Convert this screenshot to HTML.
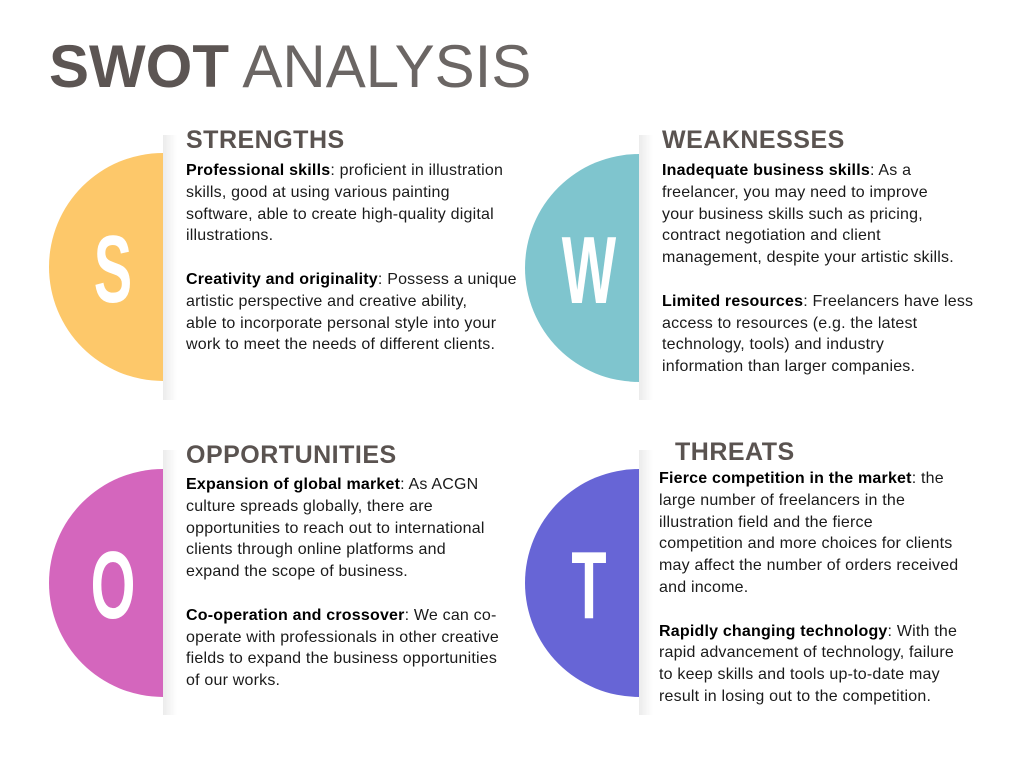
<!DOCTYPE html>
<html><head><meta charset="utf-8">
<style>
body{margin:0;background:#fff;}
#page{position:relative;width:1018px;height:757px;overflow:hidden;background:#fff;font-family:"Liberation Sans",sans-serif;}
.title{position:absolute;left:49px;top:32px;font-size:60px;color:#5c5553;white-space:nowrap;}
.title b{font-weight:bold;}
.title span{font-weight:normal;color:#6b6664;letter-spacing:0px;}
.half{position:absolute;width:114px;height:228px;border-radius:114px 0 0 114px;}
.shadow{position:absolute;width:14px;height:265px;background:linear-gradient(to right,rgba(0,0,0,0.08),rgba(0,0,0,0));}
.letter{position:absolute;width:114px;text-align:center;color:#fff;font-weight:bold;font-size:96px;line-height:96px;transform:scaleX(0.6);transform-origin:center;}
.head{position:absolute;font-size:25px;font-weight:bold;color:#5a5350;letter-spacing:0.5px;white-space:nowrap;}
.txt{position:absolute;font-size:16px;line-height:21.8px;color:#1a1a1a;white-space:nowrap;letter-spacing:0.2px;}
.txt b{color:#000;}
.txt p{margin:0 0 21.8px 0;}
</style></head><body>
<div id="page">
<div class="title"><b>SWOT</b> <span>ANALYSIS</span></div>

<div class="shadow" style="left:163px;top:135px"></div>
<div class="half" style="left:49px;top:153px;background:#fdc86a"></div>
<div class="letter" style="left:56px;top:222px">S</div>
<div class="head" style="left:186px;top:126px">STRENGTHS</div>
<div class="txt" style="left:186px;top:160px">
<p><b>Professional skills</b>: proficient in illustration<br>skills, good at using various painting<br>software, able to create high-quality digital<br>illustrations.</p>
<p><b>Creativity and originality</b>: Possess a unique<br>artistic perspective and creative ability,<br>able to incorporate personal style into your<br>work to meet the needs of different clients.</p></div>

<div class="shadow" style="left:639px;top:135px"></div>
<div class="half" style="left:525px;top:154px;background:#7fc5ce"></div>
<div class="letter" style="left:532px;top:223px">W</div>
<div class="head" style="left:662px;top:126px">WEAKNESSES</div>
<div class="txt" style="left:662px;top:160px">
<p><b>Inadequate business skills</b>: As a<br>freelancer, you may need to improve<br>your business skills such as pricing,<br>contract negotiation and client<br>management, despite your artistic skills.</p>
<p><b>Limited resources</b>: Freelancers have less<br>access to resources (e.g. the latest<br>technology, tools) and industry<br>information than larger companies.</p></div>

<div class="shadow" style="left:163px;top:450px"></div>
<div class="half" style="left:49px;top:469px;background:#d466bd"></div>
<div class="letter" style="left:56px;top:538px">O</div>
<div class="head" style="left:186px;top:441px">OPPORTUNITIES</div>
<div class="txt" style="left:186px;top:474px">
<p><b>Expansion of global market</b>: As ACGN<br>culture spreads globally, there are<br>opportunities to reach out to international<br>clients through online platforms and<br>expand the scope of business.</p>
<p><b>Co-operation and crossover</b>: We can co-<br>operate with professionals in other creative<br>fields to expand the business opportunities<br>of our works.</p></div>

<div class="shadow" style="left:639px;top:450px"></div>
<div class="half" style="left:525px;top:469px;background:#6765d6"></div>
<div class="letter" style="left:532px;top:538px">T</div>
<div class="head" style="left:675px;top:438px">THREATS</div>
<div class="txt" style="left:659px;top:468px">
<p><b>Fierce competition in the market</b>: the<br>large number of freelancers in the<br>illustration field and the fierce<br>competition and more choices for clients<br>may affect the number of orders received<br>and income.</p>
<p><b>Rapidly changing technology</b>: With the<br>rapid advancement of technology, failure<br>to keep skills and tools up-to-date may<br>result in losing out to the competition.</p></div>
</div>
</body></html>
